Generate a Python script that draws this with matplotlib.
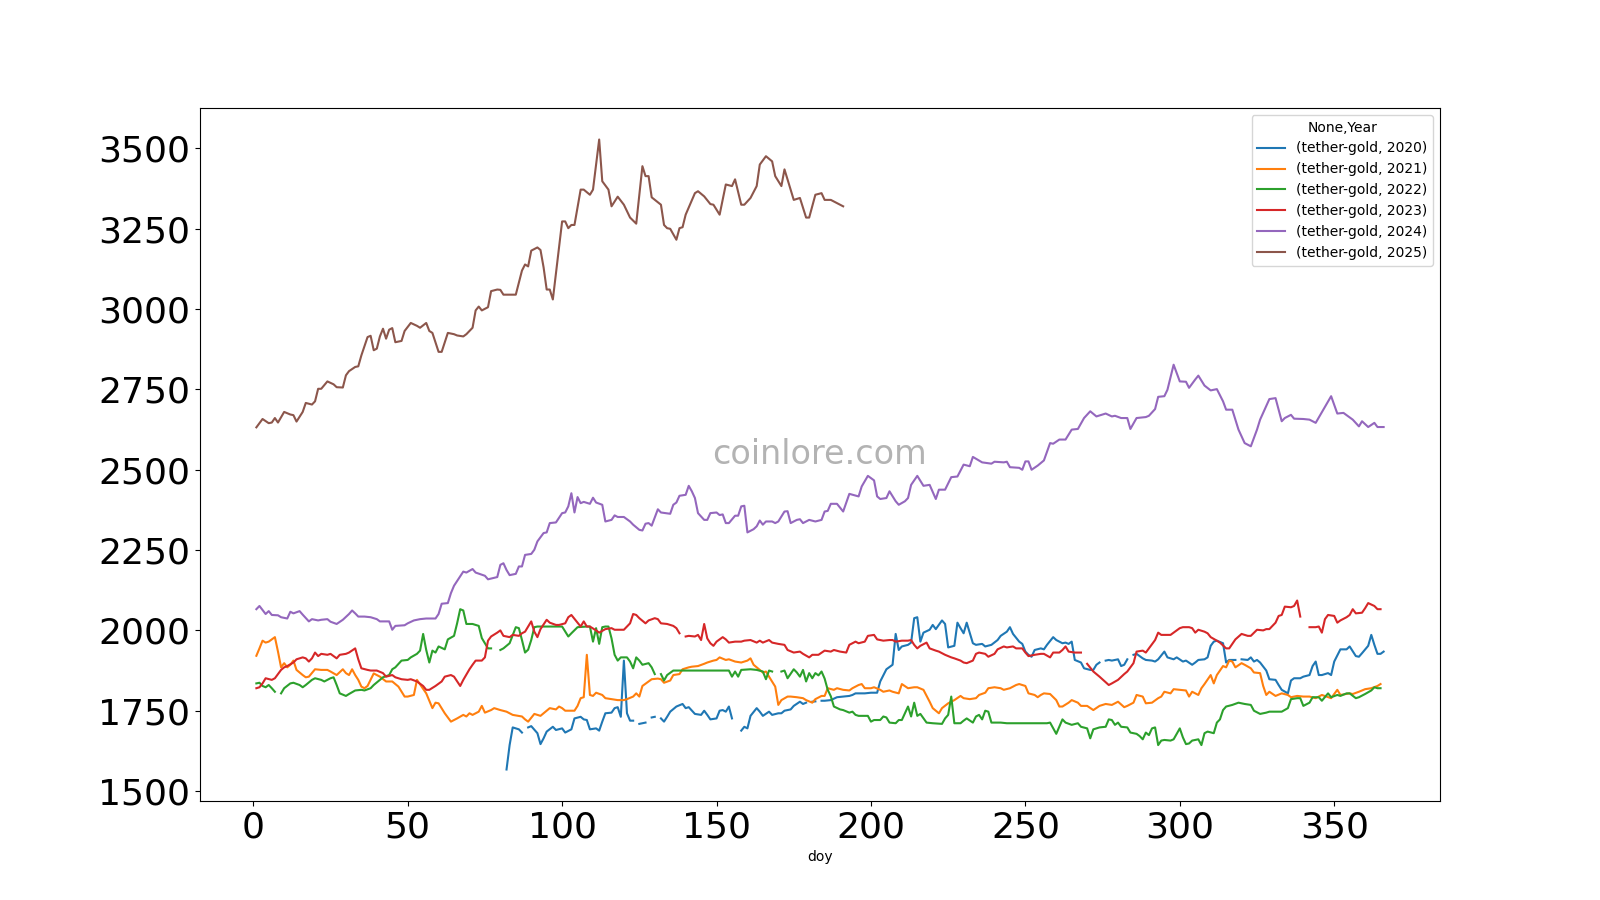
import numpy as np
import matplotlib
matplotlib.use("Agg")
import matplotlib.pyplot as plt
from matplotlib.ticker import MultipleLocator

nan = np.nan

years = [2020, 2021, 2022, 2023, 2024, 2025]

# (day of year, price), nan = missing days
gold_2020 = [
    (82, 1567), (83, 1643), (84, 1698), (86, 1692), (87, 1682), (88, nan), (89, 1698), (90, 1702),
    (92, 1680), (93, 1646), (94, 1664), (95, 1685), (97, 1700), (98, 1690), (100, 1695), (101, 1682),
    (103, 1692), (104, 1726), (106, 1731), (107, 1723), (108, 1721), (109, 1692), (111, 1695),
    (112, 1688), (113, 1716), (114, 1742), (116, 1744), (117, 1758), (118, 1761), (119, 1731),
    (120, 1906), (121, 1742), (122, 1719), (123, 1719), (124, nan), (125, 1709), (126, 1711),
    (127, 1713), (128, nan), (129, 1729), (130, 1731), (131, nan), (132, 1726), (133, 1716),
    (134, 1731), (135, 1747), (137, 1763), (139, 1771), (140, 1758), (141, 1761), (143, 1740),
    (145, 1737), (146, 1750), (147, 1737), (148, 1723), (150, 1726), (151, 1750), (152, 1752),
    (153, 1747), (154, 1763), (155, 1726), (156, nan), (158, 1688), (159, 1700), (160, 1695),
    (161, 1734), (163, 1758), (164, 1747), (165, 1734), (167, 1747), (168, 1737), (170, 1742),
    (171, 1742), (172, 1750), (174, 1754), (175, 1765), (177, 1778), (178, 1771), (179, 1775),
    (180, nan), (181, 1778), (182, 1779), (183, nan), (184, 1781), (185, 1781), (187, 1783),
    (189, 1792), (191, 1794), (193, 1796), (194, 1799), (195, 1804), (198, 1804), (200, 1806),
    (202, 1806), (203, 1841), (205, 1879), (207, 1893), (208, 1989), (209, 1939), (210, 1950),
    (212, 1955), (213, 1962), (214, 2038), (215, 2041), (216, 1965), (217, 1993), (219, 2002),
    (220, 2017), (221, 2004), (223, 2031), (224, 2020), (225, 1947), (227, 1952), (228, 2024),
    (229, 2007), (230, 1991), (231, 2024), (233, 1960), (234, 1955), (236, 1958), (237, 1950),
    (239, 1955), (241, 1970), (242, 1983), (244, 1996), (245, 2010), (246, 1989), (248, 1965),
    (249, 1958), (250, 1934), (251, 1924), (252, 1918), (253, 1939), (255, 1944), (256, 1941),
    (257, 1955), (259, 1979), (260, 1970), (262, 1960), (263, 1962), (264, 1958), (265, 1965),
    (266, 1908), (268, 1900), (269, 1882), (271, 1877), (272, 1877), (273, 1893), (274, 1900),
    (275, nan), (276, 1906), (277, 1908), (278, 1906), (279, 1908), (280, 1910), (281, 1889),
    (282, 1893), (283, 1910), (284, nan), (285, 1924), (286, 1927), (288, 1913), (289, 1908),
    (291, 1906), (292, 1903), (293, 1910), (295, 1934), (296, 1916), (298, 1910), (299, 1916),
    (301, 1903), (302, 1906), (304, 1893), (305, 1900), (306, 1908), (308, 1910), (309, 1916),
    (310, 1952), (311, 1965), (312, 1968), (314, 1960), (315, 1900), (316, 1908), (318, 1908),
    (319, nan), (320, 1910), (322, 1908), (323, 1916), (324, 1903), (325, 1908), (326, 1900),
    (328, 1875), (329, 1848), (331, 1846), (332, 1830), (333, 1815), (335, 1804), (336, 1844),
    (337, 1851), (339, 1851), (340, 1856), (342, 1861), (343, 1889), (344, 1903), (345, 1861),
    (346, 1861), (348, 1867), (349, 1861), (350, 1903), (352, 1941), (354, 1941), (355, 1950),
    (357, 1920), (358, 1918), (359, 1929), (361, 1952), (362, 1986), (363, 1955), (364, 1927),
    (365, 1927), (366, 1934),
]

gold_2021 = [
    (1, 1921), (2, 1944), (3, 1968), (4, 1962), (5, 1965), (7, 1979), (8, 1934), (9, 1885),
    (10, 1898), (11, 1885), (12, 1893), (13, 1906), (14, 1877), (16, 1861), (17, 1854), (18, 1856),
    (20, 1879), (22, 1877), (24, 1877), (25, 1872), (27, 1861), (29, 1879), (30, 1867), (31, 1861),
    (32, 1879), (33, 1861), (34, 1846), (35, 1825), (36, 1820), (37, 1827), (39, 1866), (41, 1856),
    (43, 1841), (45, 1841), (47, 1825), (49, 1794), (50, 1794), (52, 1799), (53, 1846), (56, 1804),
    (58, 1758), (59, 1775), (60, 1773), (62, 1742), (64, 1716), (66, 1726), (68, 1737), (69, 1732),
    (70, 1742), (71, 1737), (73, 1747), (74, 1765), (75, 1744), (77, 1752), (78, 1758), (80, 1752),
    (82, 1747), (84, 1737), (87, 1732), (88, 1723), (89, 1716), (91, 1740), (93, 1734), (94, 1742),
    (96, 1758), (98, 1754), (99, 1763), (100, 1758), (101, 1750), (104, 1750), (105, 1765),
    (106, 1789), (107, 1792), (108, 1924), (109, 1799), (110, 1796), (111, 1806), (113, 1799),
    (114, 1789), (116, 1786), (118, 1783), (120, 1783), (121, 1786), (123, 1794), (124, 1804),
    (125, 1794), (126, 1827), (128, 1841), (129, 1848), (131, 1850), (132, 1848), (133, 1837),
    (135, 1844), (136, 1861), (138, 1864), (139, 1879), (141, 1885), (142, 1887), (144, 1889),
    (146, 1896), (147, 1900), (149, 1906), (150, 1908), (151, 1916), (153, 1908), (154, 1910),
    (156, 1903), (158, 1900), (159, 1903), (160, 1906), (161, 1913), (162, 1893), (164, 1877),
    (165, 1869), (166, 1872), (167, 1856), (169, 1825), (170, 1768), (171, 1783), (173, 1794),
    (174, 1794), (176, 1792), (178, 1789), (179, 1783), (181, 1775), (182, 1786), (184, 1796),
    (185, 1796), (186, 1820), (188, 1815), (189, 1820), (191, 1815), (193, 1813), (194, 1820),
    (196, 1830), (197, 1833), (198, 1820), (200, 1820), (201, 1823), (203, 1815), (204, 1809),
    (206, 1813), (207, 1809), (209, 1804), (210, 1833), (212, 1820), (214, 1823), (215, 1823),
    (217, 1815), (219, 1778), (220, 1758), (222, 1742), (223, 1758), (225, 1773), (227, 1783),
    (229, 1796), (230, 1789), (232, 1786), (234, 1789), (235, 1799), (237, 1806), (238, 1820),
    (240, 1823), (242, 1820), (243, 1815), (245, 1820), (247, 1830), (248, 1833), (250, 1827),
    (251, 1804), (253, 1799), (254, 1792), (255, 1799), (256, 1804), (258, 1802), (260, 1783),
    (261, 1763), (262, 1763), (264, 1775), (265, 1783), (267, 1775), (268, 1765), (270, 1765),
    (272, 1752), (274, 1765), (275, 1768), (276, 1771), (278, 1768), (280, 1778), (282, 1761),
    (283, 1765), (285, 1775), (286, 1799), (288, 1794), (289, 1773), (291, 1775), (293, 1789),
    (294, 1794), (295, 1809), (297, 1804), (298, 1817), (300, 1815), (302, 1813), (303, 1794),
    (304, 1809), (306, 1799), (307, 1820), (308, 1833), (310, 1861), (311, 1835), (312, 1861),
    (314, 1889), (315, 1885), (316, 1906), (317, 1903), (318, 1885), (320, 1898), (321, 1893),
    (323, 1882), (324, 1869), (326, 1867), (327, 1827), (328, 1799), (329, 1809), (331, 1796),
    (333, 1804), (335, 1799), (336, 1792), (338, 1796), (340, 1794), (342, 1794), (344, 1789),
    (346, 1799), (349, 1789), (351, 1815), (352, 1799), (355, 1804), (356, 1802), (358, 1809),
    (360, 1817), (362, 1820), (364, 1827), (365, 1833),
]

gold_2022 = [
    (1, 1835), (2, 1837), (3, 1827), (4, 1823), (5, 1830), (6, 1820), (7, 1809), (8, nan),
    (9, 1804), (10, 1820), (12, 1835), (13, 1837), (15, 1830), (16, 1823), (17, 1830), (19, 1846),
    (20, 1851), (22, 1846), (23, 1841), (25, 1851), (26, 1854), (27, 1830), (28, 1804), (30, 1796),
    (31, 1802), (33, 1813), (35, 1815), (36, 1813), (38, 1820), (39, 1830), (41, 1846), (42, 1854),
    (44, 1861), (45, 1879), (46, 1885), (48, 1906), (50, 1908), (51, 1916), (53, 1927), (54, 1937),
    (55, 1989), (56, 1939), (57, 1900), (58, 1937), (59, 1931), (60, 1950), (62, 1941), (63, 1972),
    (65, 1983), (66, 2022), (67, 2066), (68, 2062), (69, 2020), (71, 2020), (73, 2014), (74, 1976),
    (76, 1944), (77, 1944), (78, nan), (80, 1939), (81, 1944), (83, 1960), (85, 2010), (86, 2007),
    (87, 1970), (88, 1931), (89, 1940), (90, 1970), (91, 2010), (92, 2012), (94, 2012), (97, 2012),
    (100, 2012), (102, 1981), (103, 1991), (105, 2010), (108, 2012), (109, 2012), (110, 1965),
    (111, 2007), (112, 1958), (113, 2010), (114, 2012), (115, 2012), (116, 1975), (117, 1924),
    (118, 1906), (119, 1916), (121, 1916), (122, 1903), (123, 1882), (124, 1916), (125, 1906),
    (126, 1893), (128, 1898), (129, 1885), (130, 1864), (131, nan), (132, 1864), (133, 1844),
    (134, 1861), (136, 1875), (137, 1875), (140, 1875), (144, 1875), (147, 1875), (150, 1875),
    (154, 1875), (155, 1856), (156, 1872), (157, 1856), (158, 1877), (161, 1879), (163, 1877),
    (165, 1872), (166, 1848), (167, 1875), (168, 1872), (169, nan), (171, 1872), (172, 1875),
    (173, 1851), (175, 1879), (176, 1869), (177, 1856), (178, 1877), (179, 1841), (180, 1867),
    (181, 1851), (182, 1867), (183, 1860), (184, 1872), (185, 1850), (186, 1815), (187, 1795),
    (188, 1763), (190, 1754), (191, 1752), (193, 1744), (194, 1747), (195, 1737), (196, 1734),
    (199, 1734), (200, 1716), (201, 1721), (203, 1721), (204, 1732), (205, 1729), (206, 1713),
    (208, 1711), (209, 1721), (210, 1721), (212, 1763), (213, 1732), (214, 1775), (215, 1734),
    (216, 1740), (218, 1713), (220, 1711), (223, 1709), (224, 1726), (225, 1737), (226, 1794),
    (227, 1711), (229, 1711), (230, 1719), (231, 1726), (233, 1713), (234, 1732), (235, 1737),
    (236, 1723), (237, 1750), (238, 1747), (239, 1713), (242, 1713), (244, 1711), (248, 1711),
    (254, 1711), (257, 1711), (258, 1713), (260, 1678), (262, 1723), (263, 1713), (265, 1706),
    (267, 1711), (268, 1700), (270, 1695), (271, 1664), (272, 1692), (274, 1698), (276, 1700),
    (277, 1723), (278, 1721), (279, 1706), (280, 1713), (281, 1700), (283, 1698), (284, 1682),
    (286, 1678), (287, 1671), (288, 1661), (289, 1682), (290, 1674), (291, 1695), (292, 1698),
    (293, 1643), (294, 1657), (295, 1659), (297, 1657), (298, 1661), (300, 1695), (301, 1667),
    (302, 1646), (303, 1648), (304, 1657), (306, 1661), (307, 1643), (308, 1680), (309, 1685),
    (311, 1680), (312, 1713), (313, 1723), (314, 1752), (315, 1763), (317, 1768), (319, 1775),
    (321, 1771), (323, 1768), (324, 1750), (326, 1740), (328, 1744), (329, 1747), (331, 1747),
    (333, 1747), (335, 1758), (336, 1786), (338, 1789), (339, 1789), (340, 1765), (342, 1775),
    (343, 1792), (345, 1792), (346, 1781), (348, 1804), (349, 1792), (351, 1799), (352, 1796),
    (354, 1804), (355, 1804), (357, 1789), (358, 1792), (360, 1802), (362, 1813), (363, 1823),
    (364, 1820), (365, 1820),
]

gold_2023 = [
    (1, 1820), (2, 1823), (3, 1835), (4, 1851), (6, 1846), (7, 1851), (9, 1877), (10, 1885),
    (11, 1889), (13, 1900), (14, 1910), (16, 1916), (17, 1913), (18, 1903), (19, 1913), (20, 1931),
    (21, 1920), (22, 1927), (24, 1924), (25, 1927), (27, 1913), (28, 1924), (30, 1927), (31, 1931),
    (33, 1944), (34, 1910), (35, 1882), (37, 1877), (38, 1875), (40, 1875), (42, 1867), (43, 1856),
    (45, 1861), (46, 1854), (48, 1848), (50, 1846), (51, 1848), (53, 1841), (55, 1827), (56, 1815),
    (57, 1815), (59, 1827), (61, 1841), (62, 1856), (64, 1861), (65, 1856), (67, 1827), (68, 1846),
    (70, 1879), (71, 1893), (72, 1906), (74, 1906), (75, 1916), (76, 1968), (77, 1981), (79, 1993),
    (80, 2000), (81, 1983), (83, 1979), (84, 1986), (86, 1983), (87, 1991), (88, 1996), (90, 2028),
    (91, 1996), (92, 1979), (93, 2004), (95, 2033), (96, 2024), (98, 2017), (99, 2017), (101, 2022),
    (102, 2041), (103, 2048), (105, 2024), (106, 2012), (107, 2028), (108, 2012), (109, 2012),
    (111, 2000), (112, 1993), (114, 2004), (116, 2007), (117, 2002), (119, 2002), (120, 2002),
    (122, 2022), (123, 2051), (124, 2048), (125, 2038), (127, 2022), (128, 2031), (130, 2038),
    (131, 2035), (132, 2022), (134, 2020), (136, 2014), (137, 2007), (138, 1991), (139, nan),
    (140, 1981), (141, 1983), (143, 1981), (144, 1986), (145, 1970), (146, 2020), (147, 1975),
    (148, 1960), (149, 1952), (150, 1965), (152, 1979), (153, 1972), (154, 1962), (156, 1965),
    (158, 1965), (159, 1968), (161, 1970), (163, 1962), (164, 1968), (165, 1962), (167, 1970),
    (168, 1962), (170, 1958), (172, 1955), (173, 1939), (175, 1931), (177, 1934), (178, 1927),
    (180, 1916), (181, 1924), (183, 1924), (185, 1937), (187, 1934), (188, 1939), (190, 1934),
    (192, 1931), (193, 1955), (195, 1965), (196, 1960), (198, 1965), (199, 1983), (201, 1986),
    (202, 1972), (204, 1968), (206, 1970), (207, 1970), (208, 1965), (210, 1968), (212, 1968),
    (213, 1970), (214, 1955), (215, 1944), (216, 1952), (218, 1962), (219, 1944), (221, 1937),
    (222, 1934), (224, 1924), (226, 1916), (227, 1913), (229, 1906), (230, 1900), (231, 1898),
    (233, 1906), (234, 1927), (235, 1931), (237, 1927), (238, 1918), (240, 1927), (241, 1941),
    (243, 1950), (244, 1947), (246, 1950), (247, 1944), (249, 1944), (250, 1931), (251, 1920),
    (253, 1924), (255, 1927), (256, 1927), (258, 1916), (259, 1931), (261, 1931), (262, 1939),
    (263, 1950), (264, 1934), (266, 1931), (268, 1931), (269, nan), (270, 1896), (272, 1872),
    (274, 1856), (277, 1830), (278, 1835), (280, 1846), (282, 1864), (283, 1872), (285, 1898),
    (286, 1934), (288, 1937), (289, 1931), (290, 1944), (292, 1970), (293, 1993), (294, 1986),
    (296, 1986), (297, 1986), (298, 1993), (300, 2007), (301, 2010), (303, 2010), (304, 2007),
    (305, 1993), (306, 2002), (308, 1996), (309, 1991), (310, 1979), (312, 1968), (313, 1962),
    (315, 1944), (316, 1944), (317, 1958), (318, 1972), (320, 1989), (322, 1983), (323, 1983),
    (325, 2002), (327, 2000), (328, 2004), (329, 2004), (331, 2024), (332, 2045), (333, 2048),
    (334, 2074), (336, 2072), (337, 2076), (338, 2093), (339, 2043), (340, nan), (342, 2010),
    (344, 2010), (345, 2012), (346, 1993), (347, 2035), (348, 2048), (350, 2045), (351, 2024),
    (352, 2031), (354, 2041), (355, 2048), (356, 2066), (357, 2053), (359, 2055), (360, 2069),
    (361, 2085), (363, 2076), (364, 2066), (365, 2066),
]

gold_2024 = [
    (1, 2066), (2, 2076), (4, 2051), (5, 2060), (6, 2048), (8, 2047), (9, 2041), (11, 2037),
    (12, 2058), (13, 2053), (15, 2060), (16, 2049), (18, 2028), (19, 2035), (21, 2031), (22, 2033),
    (24, 2035), (25, 2027), (27, 2020), (29, 2033), (31, 2051), (32, 2062), (33, 2053), (34, 2043),
    (36, 2043), (38, 2041), (40, 2035), (41, 2028), (44, 2028), (45, 2002), (46, 2014), (49, 2016),
    (50, 2022), (52, 2031), (54, 2035), (56, 2037), (59, 2037), (60, 2051), (61, 2083), (63, 2085),
    (64, 2116), (65, 2139), (67, 2168), (68, 2183), (69, 2180), (71, 2191), (72, 2180), (75, 2170),
    (76, 2159), (79, 2166), (80, 2204), (81, 2209), (82, 2188), (83, 2172), (85, 2176), (86, 2199),
    (87, 2199), (88, 2235), (90, 2238), (91, 2251), (92, 2277), (94, 2303), (95, 2305), (96, 2334),
    (98, 2336), (100, 2365), (101, 2367), (102, 2386), (103, 2427), (104, 2367), (105, 2415),
    (106, 2396), (107, 2400), (109, 2394), (110, 2413), (111, 2398), (113, 2391), (114, 2339),
    (116, 2344), (117, 2358), (118, 2353), (120, 2353), (122, 2339), (123, 2329), (125, 2313),
    (126, 2311), (127, 2332), (128, 2334), (129, 2326), (131, 2377), (132, 2367), (135, 2363),
    (136, 2391), (137, 2398), (138, 2419), (140, 2422), (141, 2450), (142, 2433), (143, 2412),
    (144, 2365), (146, 2344), (147, 2344), (148, 2365), (150, 2367), (151, 2359), (152, 2361),
    (153, 2334), (154, 2334), (156, 2357), (157, 2357), (158, 2386), (159, 2388), (160, 2305),
    (162, 2315), (163, 2324), (164, 2342), (165, 2329), (166, 2339), (168, 2339), (169, 2334),
    (170, 2339), (172, 2370), (173, 2371), (174, 2334), (176, 2344), (177, 2346), (178, 2334),
    (180, 2344), (182, 2339), (184, 2344), (185, 2370), (186, 2372), (187, 2394), (189, 2394),
    (191, 2370), (193, 2425), (196, 2417), (197, 2448), (199, 2481), (201, 2467), (202, 2417),
    (203, 2409), (205, 2412), (206, 2433), (208, 2402), (209, 2391), (211, 2402), (212, 2412),
    (213, 2453), (215, 2481), (217, 2450), (219, 2453), (221, 2409), (222, 2438), (224, 2438),
    (226, 2477), (228, 2479), (230, 2516), (232, 2511), (233, 2540), (236, 2523), (239, 2519),
    (240, 2525), (243, 2523), (244, 2525), (245, 2508), (248, 2506), (249, 2500), (250, 2526),
    (251, 2526), (252, 2500), (254, 2513), (256, 2529), (258, 2583), (259, 2581), (261, 2594),
    (263, 2594), (265, 2625), (267, 2627), (269, 2661), (271, 2682), (273, 2666), (276, 2675),
    (278, 2666), (279, 2668), (281, 2661), (283, 2661), (284, 2627), (286, 2661), (289, 2664),
    (290, 2668), (292, 2689), (293, 2727), (295, 2729), (296, 2749), (298, 2827), (300, 2775),
    (302, 2774), (303, 2755), (305, 2781), (306, 2793), (308, 2762), (310, 2747), (312, 2751),
    (314, 2713), (315, 2687), (317, 2687), (319, 2625), (321, 2583), (323, 2573), (325, 2625),
    (326, 2656), (329, 2720), (331, 2723), (333, 2651), (334, 2661), (336, 2671), (337, 2659),
    (340, 2658), (342, 2656), (344, 2646), (349, 2729), (351, 2675), (353, 2677), (356, 2656),
    (358, 2635), (359, 2651), (361, 2633), (363, 2646), (364, 2633), (366, 2633),
]

gold_2025 = [
    (1, 2632), (3, 2658), (5, 2645), (6, 2647), (7, 2661), (8, 2647), (10, 2680), (12, 2672),
    (13, 2670), (14, 2650), (16, 2680), (17, 2708), (19, 2703), (20, 2713), (21, 2752), (22, 2752),
    (24, 2775), (26, 2766), (27, 2757), (29, 2756), (30, 2794), (31, 2807), (33, 2820), (34, 2822),
    (35, 2856), (37, 2913), (38, 2917), (39, 2872), (40, 2877), (41, 2915), (42, 2939), (43, 2908),
    (44, 2936), (45, 2941), (46, 2897), (48, 2901), (49, 2932), (51, 2957), (53, 2948), (54, 2942),
    (56, 2957), (57, 2932), (58, 2926), (60, 2867), (61, 2867), (63, 2926), (65, 2922), (66, 2918),
    (68, 2915), (69, 2922), (71, 2942), (72, 2996), (73, 3008), (74, 2996), (76, 3006), (77, 3056),
    (79, 3061), (80, 3060), (81, 3045), (83, 3045), (85, 3045), (87, 3120), (88, 3139), (89, 3133),
    (90, 3182), (92, 3192), (93, 3184), (94, 3130), (95, 3061), (96, 3061), (97, 3030), (100, 3273),
    (101, 3273), (102, 3252), (103, 3262), (104, 3262), (106, 3372), (107, 3372), (109, 3356),
    (110, 3372), (112, 3528), (113, 3398), (115, 3372), (116, 3320), (118, 3350), (120, 3325),
    (122, 3285), (124, 3266), (126, 3445), (127, 3414), (128, 3414), (129, 3348), (132, 3325),
    (133, 3262), (134, 3252), (135, 3250), (137, 3216), (138, 3252), (139, 3255), (140, 3294),
    (143, 3361), (144, 3367), (146, 3351), (148, 3327), (149, 3325), (151, 3294), (153, 3388),
    (155, 3383), (156, 3404), (158, 3325), (159, 3325), (161, 3346), (163, 3383), (164, 3450),
    (166, 3476), (168, 3460), (169, 3414), (171, 3383), (172, 3435), (175, 3340), (177, 3346),
    (179, 3285), (180, 3285), (182, 3356), (184, 3361), (185, 3340), (187, 3340), (189, 3330),
    (191, 3320),
]

series = [gold_2020, gold_2021, gold_2022, gold_2023, gold_2024, gold_2025]

fig, ax = plt.subplots(figsize=(16, 9))

for yr, pts in zip(years, series):
    arr = np.array(pts, dtype=float)
    ax.plot(arr[:, 0], arr[:, 1], lw=1.5, label=f"(tether-gold, {yr})")

ax.xaxis.set_major_locator(MultipleLocator(50))
ax.yaxis.set_major_locator(MultipleLocator(250))
ax.tick_params(labelsize=26)
ax.set_xlabel("doy")
ax.legend(title="None,Year", loc="upper right")

ax.text(0.5, 0.5, "coinlore.com", transform=ax.transAxes, ha="center", va="center",
        fontsize=24, color="#a0a0a0", alpha=0.8)

fig.savefig("out.png", dpi=100)
